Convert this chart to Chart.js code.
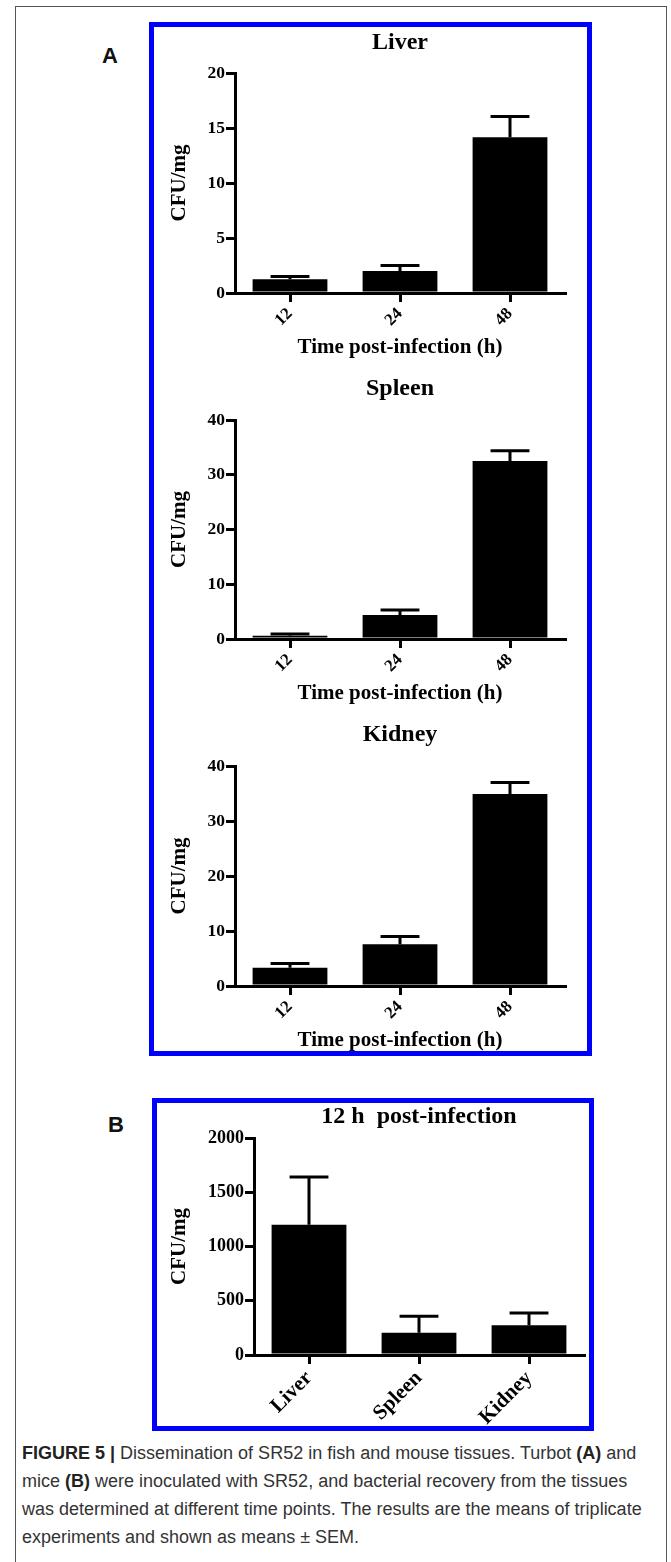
<!DOCTYPE html>
<html lang="en">
<head>
<meta charset="utf-8">
<title>Figure 5</title>
<script src="https://cdn.jsdelivr.net/npm/chart.js@4"></script>
<style>
  body { margin: 0; background: #fff; }
  #pagina { position: relative; width: 671px; height: 1562px; overflow: hidden; background: #fff; }
  .moldura { position: absolute; left: 15px; top: 6px; width: 652px; height: 1600px;
             border: 1px solid #555; border-bottom: none; box-sizing: border-box; }
  .painel { position: absolute; border: 5px solid #0000ff; box-sizing: border-box; }
  .letra { position: absolute; font: bold 22px 'Liberation Sans', Arial, sans-serif; color: #111; }
  canvas { position: absolute; }
  .legenda { position: absolute; left: 22px; top: 1439px; margin: 0; width: 645px;
             font: 18px/28px 'Liberation Sans', Arial, sans-serif; color: #333; white-space: nowrap; }
  .legenda b { color: #222; }
</style>
</head>
<body>
<div id="pagina">
  <div class="moldura"></div>
  <div class="painel" style="left:149px; top:22px; width:443px; height:1034px;"></div>
  <div class="painel" style="left:152px; top:1098px; width:442px; height:333px;"></div>
  <div class="letra" style="left:102px; top:43px;">A</div>
  <div class="letra" style="left:108px; top:1112px;">B</div>

  <canvas id="graficoFigado" width="430" height="334" style="left:155px; top:26px;"></canvas>
  <canvas id="graficoBaco" width="430" height="334" style="left:155px; top:372px;"></canvas>
  <canvas id="graficoRim" width="430" height="335" style="left:155px; top:718px;"></canvas>
  <canvas id="graficoCamundongo" width="430" height="325" style="left:158px; top:1101px;"></canvas>

  <p class="legenda"><b>FIGURE 5 |</b> Dissemination of SR52 in fish and mouse tissues. Turbot <b>(A)</b> and<br>mice <b>(B)</b> were inoculated with SR52, and bacterial recovery from the tissues<br>was determined at different time points. The results are the means of triplicate<br>experiments and shown as means ± SEM.</p>
</div>

<script>
// Dados (médias e SEM)
const horas = ['12', '24', '48'];
const tecidos = ['Liver', 'Spleen', 'Kidney'];

const figadoMedia = [1.25, 2.0, 14.15];
const figadoErro = [0.25, 0.5, 1.9];
const figadoTicks = [0, 5, 10, 15, 20];

const bacoMedia = [0.6, 4.4, 32.5];
const bacoErro = [0.3, 0.9, 1.9];
const bacoTicks = [0, 10, 20, 30, 40];

const rimMedia = [3.3, 7.6, 34.9];
const rimErro = [0.8, 1.4, 2.1];
const rimTicks = [0, 10, 20, 30, 40];

const camundongoMedia = [1200, 204, 274];
const camundongoErro = [440, 153, 113];
const camundongoTicks = [0, 500, 1000, 1500, 2000];

const SERIFA = "'Liberation Serif', 'Times New Roman', serif";

/* ------------------------------------------------------------------ */
/*                  PLUGIN DAS BARRAS DE ERRO (SEM)                   */
/* ------------------------------------------------------------------ */

/**
 * Desenha só a metade de cima da barra de erro, com um traço no topo.
 */
const barrasErro = {
    id: 'barrasErro',
    afterDatasetsDraw(chart) {
        const { ctx, scales: { y } } = chart;
        chart.data.datasets.forEach((ds, i) => {
            const meta = chart.getDatasetMeta(i);
            meta.data.forEach((barra, j) => {
                const topo = y.getPixelForValue(ds.data[j] + ds.erros[j]);
                const meio = barra.width * 0.26;
                ctx.save();
                ctx.strokeStyle = '#000';
                ctx.lineWidth = 3;
                ctx.beginPath();
                ctx.moveTo(barra.x, barra.y);
                ctx.lineTo(barra.x, topo);
                ctx.moveTo(barra.x - meio, topo);
                ctx.lineTo(barra.x + meio, topo);
                ctx.stroke();
                ctx.restore();
            });
        });
    }
};

/**
 * Cria um gráfico de barras no estilo do GraphPad.
 */
function criarGrafico(cfg) {
    const ctx = document.getElementById(cfg.id).getContext('2d');
    const fonte = (tamanho) => ({ family: SERIFA, size: tamanho, weight: 'bold', lineHeight: 1.2 });

    return new Chart(ctx, {
        type: 'bar',
        data: {
            labels: cfg.categorias,
            datasets: [{
                data: cfg.medias,
                erros: cfg.erros,
                backgroundColor: '#000',
                borderWidth: 0,
                barPercentage: 0.68,
                categoryPercentage: 1
            }]
        },
        options: {
            responsive: false,
            animation: false,
            layout: { padding: { left: 0, right: cfg.padDireita, top: 0, bottom: 0 } },
            plugins: {
                legend: { display: false },
                tooltip: { enabled: false },
                title: {
                    display: true,
                    fullSize: false,
                    text: cfg.titulo,
                    color: '#000',
                    font: fonte(24),
                    padding: { top: cfg.titPadTopo, bottom: cfg.titPadBase }
                }
            },
            scales: {
                x: {
                    grid: { offset: false, drawOnChartArea: false, color: '#000', lineWidth: 3, tickLength: 9 },
                    border: { color: '#000', width: 3 },
                    ticks: { color: '#000', font: fonte(cfg.fonteX), minRotation: 45, maxRotation: 45, autoSkip: false, padding: 2 },
                    title: { display: !!cfg.tituloX, text: cfg.tituloX, color: '#000', font: fonte(21), padding: 0 },
                    afterFit: s => { s.height = cfg.alturaX; }
                },
                y: {
                    min: cfg.ticksY[0],
                    max: cfg.ticksY[cfg.ticksY.length - 1],
                    grid: { drawOnChartArea: false, color: '#000', lineWidth: 3, tickLength: 9 },
                    border: { color: '#000', width: 3 },
                    ticks: { color: '#000', font: fonte(cfg.fonteY), padding: 1, callback: v => String(v) },
                    title: { display: true, text: 'CFU/mg', color: '#000', font: fonte(21), padding: { top: cfg.padTituloY, bottom: 0 } },
                    afterBuildTicks: s => { s.ticks = cfg.ticksY.map(v => ({ value: v })); },
                    afterFit: s => { s.width = cfg.larguraY; }
                }
            }
        },
        plugins: [barrasErro]
    });
}

// Painel A: turbot
criarGrafico({
    id: 'graficoFigado', titulo: 'Liver', categorias: horas, medias: figadoMedia, erros: figadoErro,
    ticksY: figadoTicks, tituloX: 'Time post-infection (h)',
    titPadTopo: 2.6, titPadBase: 15.6, alturaX: 67, larguraY: 80, padTituloY: 12.4, padDireita: 20,
    fonteX: 17, fonteY: 17.5
});

criarGrafico({
    id: 'graficoBaco', titulo: 'Spleen', categorias: horas, medias: bacoMedia, erros: bacoErro,
    ticksY: bacoTicks, tituloX: 'Time post-infection (h)',
    titPadTopo: 2.6, titPadBase: 16.6, alturaX: 67, larguraY: 80, padTituloY: 12.4, padDireita: 20,
    fonteX: 17, fonteY: 17.5
});

criarGrafico({
    id: 'graficoRim', titulo: 'Kidney', categorias: horas, medias: rimMedia, erros: rimErro,
    ticksY: rimTicks, tituloX: 'Time post-infection (h)',
    titPadTopo: 2.6, titPadBase: 16.6, alturaX: 67, larguraY: 80, padTituloY: 12.4, padDireita: 20,
    fonteX: 17, fonteY: 17.5
});

// Painel B: camundongos, 12 h
criarGrafico({
    id: 'graficoCamundongo', titulo: '12 h  post-infection', categorias: tecidos, medias: camundongoMedia, erros: camundongoErro,
    ticksY: camundongoTicks, tituloX: '',
    titPadTopo: 1.6, titPadBase: 6.6, alturaX: 71, larguraY: 96, padTituloY: 9.4, padDireita: 4,
    fonteX: 21, fonteY: 18
});
</script>
</body>
</html>
